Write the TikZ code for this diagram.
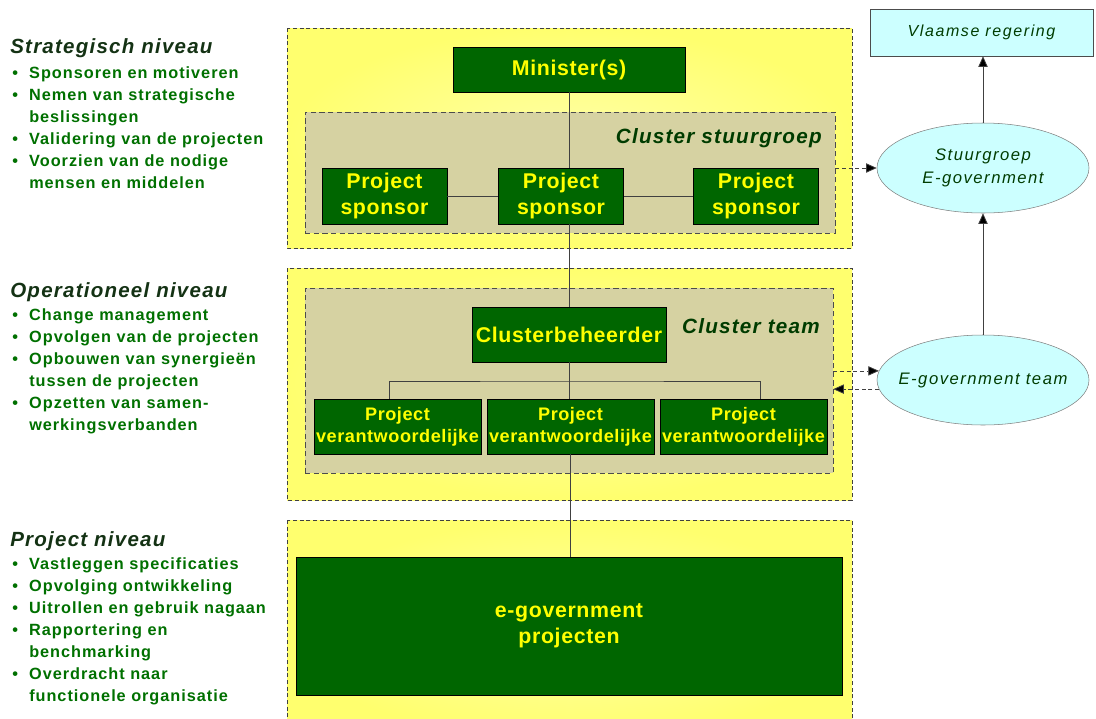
\documentclass[tikz,border=0pt]{standalone}
\usepackage{fontspec}
\setmainfont{Liberation Sans}
\usetikzlibrary{arrows.meta,shapes.geometric}
\definecolor{boxgreen}{RGB}{0,102,0}
\definecolor{boxtext}{RGB}{255,255,0}
\definecolor{panelyellow}{RGB}{255,255,110}
\definecolor{panelpale}{RGB}{255,255,165}
\definecolor{clustergray}{RGB}{214,210,162}
\definecolor{listgreen}{RGB}{0,112,0}
\definecolor{headgreen}{RGB}{20,50,20}
\definecolor{darkgreen}{RGB}{0,60,0}
\definecolor{lightcyan}{RGB}{204,255,255}
\newcommand\itm{\makebox[12.75pt][l]{\textbullet}}
\newcommand\ringtext[1]{\makebox[0pt]{#1}}
\tikzset{
  panel/.style={draw=black!75, dash pattern=on 3pt off 2pt, inner color=panelpale, outer color=panelyellow},
  clusterbox/.style={draw=black!70, dash pattern=on 4pt off 2.5pt, fill=clustergray, inner sep=0pt},
  greenbox/.style={draw=black, fill=boxgreen, text=boxtext, align=center, inner sep=0pt,
    font=\fontsize{16}{19.5}\selectfont\bfseries\addfontfeatures{LetterSpace=3}},
  smallgreen/.style={greenbox, font=\fontsize{13.6}{16.5}\selectfont\bfseries\addfontfeatures{LetterSpace=3}},
  bluering/.style={ellipse, draw=black!50, fill=lightcyan, align=center, text=darkgreen, inner sep=0pt,
    minimum width=159pt, minimum height=67.5pt,
    font=\fontsize{12.5}{17.3}\selectfont\itshape\addfontfeatures{LetterSpace=9}},
  heading/.style={anchor=base west, text=headgreen, inner sep=0pt,
    font=\fontsize{15.4}{18}\selectfont\bfseries\itshape\addfontfeatures{LetterSpace=6}},
  bullets/.style={anchor=base west, text=listgreen, align=left, inner sep=0pt,
    font=\fontsize{12.2}{16.6}\selectfont\bfseries\addfontfeatures{LetterSpace=6}},
  clusterlabel/.style={anchor=east, text=darkgreen, inner sep=0pt,
    font=\fontsize{15.5}{18}\selectfont\bfseries\itshape\addfontfeatures{LetterSpace=6}},
  line/.style={draw=black!75, line width=0.6pt},
  upward/.style={line, -{Triangle[length=8pt,width=7pt,fill=black]}},
  sideward/.style={upward, dash pattern=on 3pt off 2pt}
}
\begin{document}
\begin{tikzpicture}[x=0.75pt,y=-0.75pt]
\useasboundingbox (0,0) rectangle (1096,718);
% Vlakken per niveau
\draw[panel] (287,28) rectangle (852,248);
\draw[panel] (287,268) rectangle (852,500);
\draw[panel] (287,520) rectangle (852,740);
\node[clusterbox, minimum width=397.5pt, minimum height=90.75pt] (stuurbox) at (570,172.5) {};
\node[clusterbox, minimum width=396pt, minimum height=138.75pt] (teambox) at (569,380.5) {};
\node[clusterlabel] (stuurlabel) at (822,138) {Cluster stuurgroep};
\node[clusterlabel] (teamlabel) at (820,326) {Cluster team};
% Strategisch
\node[greenbox, minimum width=174pt, minimum height=33.75pt] (minister) at (569,69.5) {Minister(s)};
\node[greenbox, minimum width=93.75pt, minimum height=42pt] (s1) at (384.5,196) {Project\\sponsor};
\node[greenbox, minimum width=93.75pt, minimum height=42pt] (s2) at (561,196) {Project\\sponsor};
\node[greenbox, minimum width=93.75pt, minimum height=42pt] (s3) at (756,196) {Project\\sponsor};
% Operationeel
\node[greenbox, minimum width=145.5pt, minimum height=41.25pt] (beheer) at (569,334.5) {Clusterbeheerder};
\node[smallgreen, minimum width=125.25pt, minimum height=41.25pt] (pv1) at (397.5,426.5) {Project\\verantwoordelijke};
\node[smallgreen, minimum width=125.25pt, minimum height=41.25pt] (pv2) at (570.5,426.5) {Project\\verantwoordelijke};
\node[smallgreen, minimum width=125.25pt, minimum height=41.25pt] (pv3) at (743.5,426.5) {Project\\verantwoordelijke};
% Project
\node[greenbox, minimum width=409.5pt, minimum height=103.5pt] (proj) at (569,626) {e-government\\projecten};
% Rechterkant
\node[draw=black!70, fill=lightcyan, text=darkgreen, minimum width=167.25pt, minimum height=35.25pt,
  font=\fontsize{12}{14}\selectfont\itshape\addfontfeatures{LetterSpace=10}] (regering) at (981.5,32.5) {Vlaamse regering};
\node[bluering] (stuur) at (983,168) {\ringtext{Stuurgroep}\\\ringtext{E-government}};
\node[bluering] (team) at (983,380) {\ringtext{E-government team}};
% Lijnen
\draw[line] (minister.south) -- (minister.south |- s2.north);
\draw[line] (s1.east) -- (s2.west) (s2.east) -- (s3.west);
\draw[line] (minister.south |- s2.south) -- (beheer.north);
\draw[line] (beheer.south) -- (beheer.south |- pv2.north);
\coordinate (brk) at (569,381);
\draw[line] ([xshift=-6.4pt]pv1.north) |- (brk) -| ([xshift=12.4pt]pv3.north);
\draw[line] (pv2.south) -- (pv2.south |- proj.north);
% Pijlen
\draw[upward] (team.north) -- (stuur.south);
\draw[upward] (stuur.north) -- (stuur.north |- regering.south);
\draw[sideward] (stuurbox.east |- stuur.west) -- (stuur.west);
\draw[sideward] (teambox.east |- team.175) -- (team.175);
\draw[sideward] (team.185) -- (teambox.east |- team.185);
% Beschriftung links
\node[heading] (h1) at (10,53) {Strategisch niveau};
\node[bullets] (l1) at (12,188.7) {\itm Sponsoren en motiveren\\ \itm Nemen van strategische\\ \hspace*{12.75pt}beslissingen\\ \itm Validering van de projecten\\ \itm Voorzien van de nodige\\ \hspace*{12.75pt}mensen en middelen};
\node[heading] (h2) at (10,297) {Operationeel niveau};
\node[bullets] (l2) at (12,430.7) {\itm Change management\\ \itm Opvolgen van de projecten\\ \itm Opbouwen van synergieën\\ \hspace*{12.75pt}tussen de projecten\\ \itm Opzetten van samen-\\ \hspace*{12.75pt}werkingsverbanden};
\node[heading] (h3) at (10,546) {Project niveau};
\node[bullets] (l3) at (12,701.8) {\itm Vastleggen specificaties\\ \itm Opvolging ontwikkeling\\ \itm Uitrollen en gebruik nagaan\\ \itm Rapportering en\\ \hspace*{12.75pt}benchmarking\\ \itm Overdracht naar\\ \hspace*{12.75pt}functionele organisatie};
\end{tikzpicture}
\end{document}
